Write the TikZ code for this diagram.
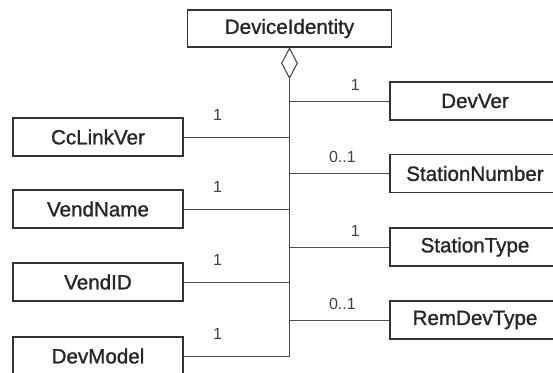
\documentclass[tikz,border=0pt]{standalone}
\usepackage{fontspec}
\setmainfont{Liberation Sans}
\newfontfamily\klassefont[FakeBold=1.2]{Liberation Sans}
\usetikzlibrary{positioning,shapes.geometric}
\tikzset{
  klasse/.style={draw=black!80, line width=0.65pt, minimum width=85pt, minimum height=19pt,
    inner sep=0pt, font=\klassefont\fontsize{10.3}{12}\selectfont, text=black!85},
  lien/.style={draw=black!70, line width=0.5pt},
  mult/.style={font=\fontsize{8}{9}\selectfont, text=black!75, inner sep=0pt, anchor=south},
}
\begin{document}
\begin{tikzpicture}[x=0.5pt,y=-0.5pt]
	% Limites du dessin
	\clip (0,0) rectangle (553,372);
	
	% Classe principale
	\node[klasse, minimum width=102pt, minimum height=18.5pt] (devid) at (289.5,28.5) {DeviceIdentity};
	\node[diamond, draw=black!75, line width=0.5pt, fill=white, inner sep=0pt,
	  minimum width=8pt, minimum height=15pt, below=0pt of devid] (agg) {};
	
	% Classes a gauche
	\node[klasse] (cclink) at (98,137) {CcLinkVer};
	\node[klasse] (vname) at (98,209) {VendName};
	\node[klasse] (vid) at (98,282) {VendID};
	\node[klasse] (dmodel) at (98,356) {DevModel};
	
	% Classes a droite
	\node[klasse] (dver) at (475,101) {DevVer};
	\node[klasse] (snum) at (475,173.5) {StationNumber};
	\node[klasse] (stype) at (475,247) {StationType};
	\node[klasse] (rdtype) at (475,320) {RemDevType};
	
	% Tronc commun
	\draw[lien] (agg.south) |- (dmodel.east);
	
	% Liens a gauche
	\draw[lien] (cclink.east) -- (cclink.east -| agg.south) node[mult, pos=0.32, yshift=8pt] {1};
	\draw[lien] (vname.east) -- (vname.east -| agg.south) node[mult, pos=0.32, yshift=8pt] {1};
	\draw[lien] (vid.east) -- (vid.east -| agg.south) node[mult, pos=0.32, yshift=8pt] {1};
	\path (dmodel.east) -- (dmodel.east -| agg.south) node[mult, pos=0.32, yshift=8pt] {1};
	
	% Liens a droite
	\draw[lien] (dver.west -| agg.south) -- (dver.west) node[mult, pos=0.66, yshift=5pt] {1};
	\draw[lien] (snum.west -| agg.south) -- (snum.west) node[mult, pos=0.53, yshift=5pt] {0..1};
	\draw[lien] (stype.west -| agg.south) -- (stype.west) node[mult, pos=0.66, yshift=5pt] {1};
	\draw[lien] (rdtype.west -| agg.south) -- (rdtype.west) node[mult, pos=0.53, yshift=5pt] {0..1};
\end{tikzpicture}
\end{document}
